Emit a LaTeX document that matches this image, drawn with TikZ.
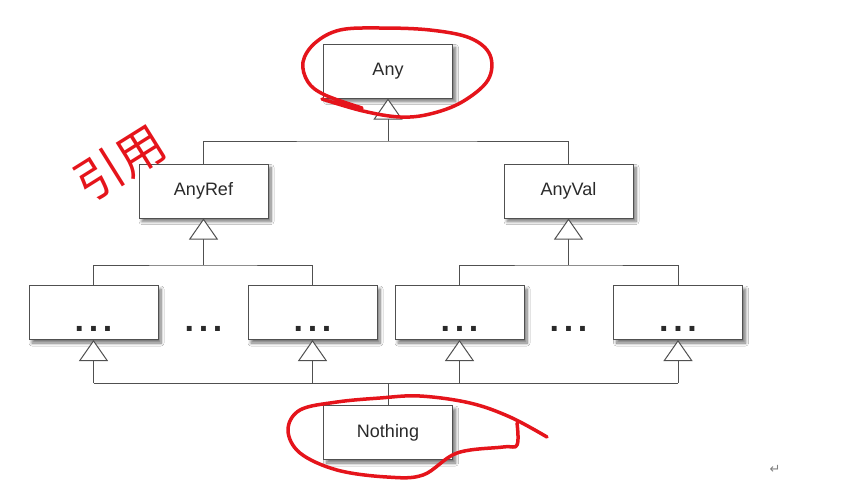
\documentclass[tikz,border=0pt]{standalone}
\usepackage{fontspec}
\setmainfont{Liberation Sans}
\newfontfamily\cjkfont{Noto Sans CJK SC}
\newfontfamily\djvfont{DejaVu Sans}
\usetikzlibrary{arrows.meta,shadows.blur}
\definecolor{ln}{HTML}{505050}
\definecolor{tx}{HTML}{2A2A2A}
\definecolor{pen}{HTML}{E5141B}
\newcommand\mydots{.\hspace{4.6pt}.\hspace{4.6pt}.}
\begin{document}
\begin{tikzpicture}[x=1pt,y=-1pt,
 box/.style={draw=ln, line width=1pt, fill=white, minimum width=129pt, minimum height=54pt,
   inner sep=0pt, font=\fontsize{18}{20}\selectfont, text=tx,
   blur shadow={shadow xshift=3pt, shadow yshift=-3.5pt, shadow blur steps=8, shadow blur radius=3pt, shadow opacity=55}},
 dotbox/.style={box, font=\bfseries\fontsize{34}{34}\selectfont, text height=42pt, text depth=5pt},
 dotstext/.style={font=\bfseries\fontsize{34}{34}\selectfont, text=tx, inner sep=0pt, anchor=base},
 wire/.style={draw=ln, line width=1pt},
 inh/.style={wire, -{Triangle[length=21pt,width=29pt,fill=white]}},
 redpen/.style={draw=pen, line width=3.5pt, line cap=round, line join=round},
]
\useasboundingbox (0,0) rectangle (856,485);
\fill[white] (0,0) rectangle (856,485);

% boxes
\node[box] (any) at (388,71) {Any};
\node[box] (anyref) at (203.5,191) {AnyRef};
\node[box] (anyval) at (568.5,191) {AnyVal};
\node[dotbox] (r1) at (93.5,312.5) {\mydots};
\node[dotbox] (r2) at (312.5,312.5) {\mydots};
\node[dotbox] (v1) at (459.5,312.5) {\mydots};
\node[dotbox] (v2) at (678,312.5) {\mydots};
\node[box] (nothing) at (388,432.5) {Nothing};
\node[dotstext] (rdots) at (203.5,331.5) {\mydots};
\node[dotstext] (vdots) at (568.5,331.5) {\mydots};

% connectors
\coordinate (j1) at (388,141);
\coordinate (j2) at (203.5,265);
\coordinate (j3) at (568.5,265);
\coordinate (j4) at (388,383);
\draw[wire] (anyref.north) |- (j1) -| (anyval.north);
\draw[inh] (j1) -- (any.south);
\draw[wire] (r1.north) |- (j2) -| (r2.north);
\draw[inh] (j2) -- (anyref.south);
\draw[wire] (v1.north) |- (j3) -| (v2.north);
\draw[inh] (j3) -- (anyval.south);
\draw[wire] (nothing.north) -- (j4);
\draw[wire] (j4 -| r1.south) -- (j4 -| v2.south);
\foreach \b in {r1,r2,v1,v2} \draw[inh] (j4 -| \b.south) -- (\b.south);

% paragraph mark
\node[font=\djvfont\fontsize{13}{13}\selectfont, text=gray, inner sep=0pt] (ret) at (775,469) {↵};

% red annotations
\draw[redpen] plot[smooth, tension=0.6] coordinates {(322,99) (363,111) (400,117) (430,114) (462,102) (488,80) (490,55) (470,38) (430,30) (380,28) (340,30) (315,43) (303,62) (308,82) (325,95) (362,108)};
\draw[redpen] plot[smooth, tension=0.6] coordinates {(517,423) (517,445) (503,447) (457,453) (423,475) (387,477) (337,470) (300,453) (288,430) (300,410) (337,402) (380,398) (420,396) (470,403) (510,417) (547,437)};
\node[font=\cjkfont\fontsize{48}{48}\selectfont, text=pen, rotate=32, inner sep=0pt] (note) at (120,163) {引用};
\end{tikzpicture}
\end{document}
